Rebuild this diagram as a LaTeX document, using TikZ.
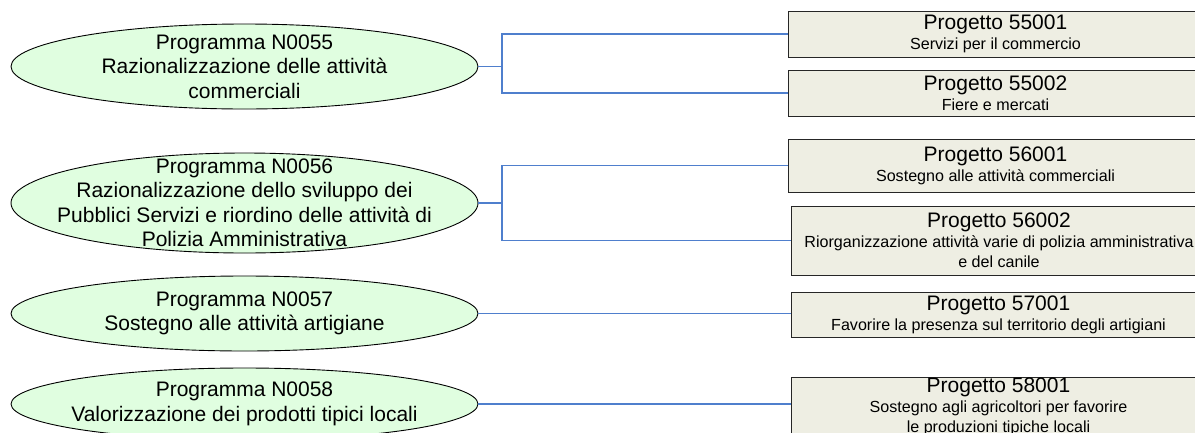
\documentclass[tikz,border=0pt]{standalone}
\usepackage{fontspec}
\setmainfont{Liberation Sans}
\usetikzlibrary{shapes.geometric}
\definecolor{ellfill}{RGB}{224,254,224}
\definecolor{boxfill}{RGB}{238,238,227}
\definecolor{linkblue}{RGB}{79,127,205}
\tikzset{
  prog/.style={ellipse, draw=black, line width=0.9pt, fill=ellfill, inner sep=0pt, minimum width=467pt},
  progtext/.style={align=center, inner sep=0pt, font=\fontsize{21}{24.5}\selectfont},
  proj/.style={rectangle, draw=black!85, line width=1pt, fill=boxfill, anchor=west, minimum width=414pt, inner sep=0pt, align=center, font=\fontsize{16.1}{20}\selectfont},
  link/.style={draw=linkblue, line width=1.2pt},
}
\newcommand{\ptitle}[1]{{\fontsize{21}{20}\selectfont #1}}
\begin{document}
\begin{tikzpicture}[x=1pt,y=-1pt]
\useasboundingbox (0,0) rectangle (1195,432);
% programmes
\node[prog, minimum height=85pt] (e1) at (244.5,66.5) {};
\node[progtext] (t1) at (e1.center) {Programma N0055\\Razionalizzazione delle attività\\commerciali};
\node[prog, minimum height=100pt] (e2) at (244.5,203) {};
\node[progtext] (t2) at (e2.center) {Programma N0056\\Razionalizzazione dello sviluppo dei\\Pubblici Servizi e riordino delle attività di\\Polizia Amministrativa};
\node[prog, minimum height=75pt] (e3) at (244.5,313.5) {};
\node[progtext] (t3) at (e3.center) {Programma N0057\\Sostegno alle attività artigiane};
\node[prog, minimum height=72pt] (e4) at (244.5,404) {};
\node[progtext] (t4) at (e4.center) {Programma N0058\\Valorizzazione dei prodotti tipici locali};
% projects
\node[proj, minimum height=46pt] (b1) at (788,34) {\ptitle{Progetto 55001}\\Servizi per il commercio};
\node[proj, minimum height=46pt] (b2) at (788,93) {\ptitle{Progetto 55002}\\Fiere e mercati};
\node[proj, minimum height=53pt] (b3) at (788,165.5) {\ptitle{Progetto 56001}\\Sostegno alle attività commerciali};
\node[proj, minimum height=69pt, minimum width=416pt] (b4) at (790.5,240.5) {\ptitle{Progetto 56002}\\Riorganizzazione attività varie di polizia amministrativa\\e del canile};
\node[proj, minimum height=45pt, minimum width=414pt] (b5) at (791,314.5) {\ptitle{Progetto 57001}\\Favorire la presenza sul territorio degli artigiani};
\node[proj, minimum height=60pt, minimum width=414pt] (b6) at (791,407) {\ptitle{Progetto 58001}\\Sostegno agli agricoltori per favorire\\le produzioni tipiche locali};
% connectors
\coordinate (j1) at (502,66.5);
\coordinate (j2) at (502,203);
\draw[link] (e1.east) -- (j1);
\draw[link] (j1) |- (b1.west);
\draw[link] (j1) |- (b2.west);
\draw[link] (e2.east) -- (j2);
\draw[link] (j2) |- (b3.west);
\draw[link] (j2) |- (b4.west);
\draw[link] (e3.east) -- (b5.west |- e3.east);
\draw[link] (e4.east) -- (b6.west |- e4.east);
\end{tikzpicture}
\end{document}
